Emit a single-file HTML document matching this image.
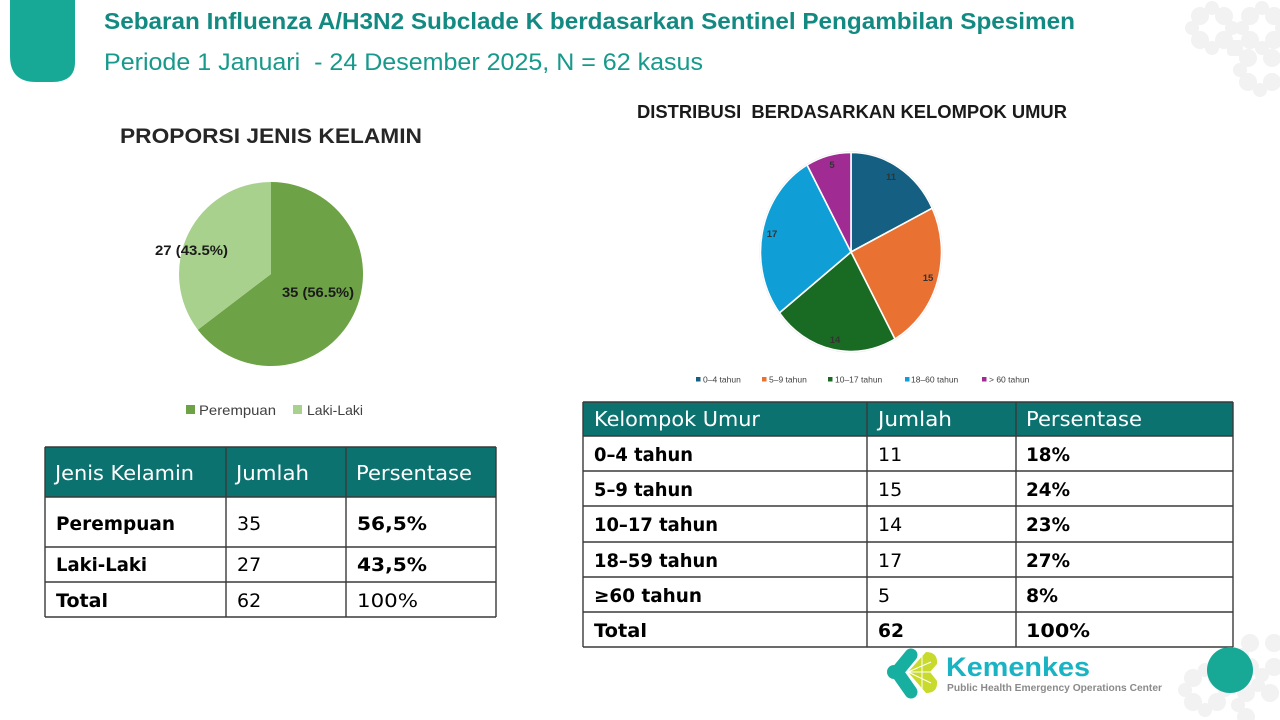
<!DOCTYPE html>
<html>
<head>
<meta charset="utf-8">
<style>
  html, body { margin:0; padding:0; background:#ffffff; }
  body { width:1280px; height:720px; overflow:hidden; }
  svg { display:block; }
  text { white-space: pre; }
</style>
</head>
<body>
<svg width="1280" height="720" viewBox="0 0 1280 720" xmlns="http://www.w3.org/2000/svg">
  <rect x="0" y="0" width="1280" height="720" fill="#ffffff"/>

  <!-- decorative gray patterns -->
  <g fill="#f2f2f2">
    <g transform="translate(1212,28)">
      <circle cx="-12" cy="-12" r="9"/><circle cx="12" cy="-12" r="9"/>
      <circle cx="-12" cy="12" r="9"/><circle cx="12" cy="12" r="9"/>
      <circle cx="0" cy="-20" r="7"/><circle cx="0" cy="20" r="7"/>
      <circle cx="-20" cy="0" r="7"/><circle cx="20" cy="0" r="7"/>
    </g>
    <g transform="translate(1262,28)">
      <circle cx="-12" cy="-12" r="9"/><circle cx="12" cy="-12" r="9"/>
      <circle cx="-12" cy="12" r="9"/><circle cx="12" cy="12" r="9"/>
      <circle cx="0" cy="-20" r="7"/><circle cx="0" cy="20" r="7"/>
      <circle cx="-20" cy="0" r="7"/><circle cx="20" cy="0" r="7"/>
    </g>
    <g transform="translate(1260,70)">
      <circle cx="-12" cy="-12" r="9"/><circle cx="12" cy="-12" r="9"/>
      <circle cx="-12" cy="12" r="9"/><circle cx="12" cy="12" r="9"/>
      <circle cx="0" cy="20" r="7"/><circle cx="-20" cy="0" r="7"/>
    </g>
    <rect x="1227" y="40" width="16" height="16" rx="4"/>
    <g transform="translate(1205,690)">
      <circle cx="-12" cy="-12" r="9"/><circle cx="12" cy="-12" r="9"/>
      <circle cx="-12" cy="12" r="9"/><circle cx="12" cy="12" r="9"/>
      <circle cx="0" cy="-20" r="7"/><circle cx="0" cy="20" r="7"/>
      <circle cx="-20" cy="0" r="7"/><circle cx="20" cy="0" r="7"/>
    </g>
    <g transform="translate(1262,655)">
      <circle cx="-12" cy="-12" r="9"/><circle cx="12" cy="-12" r="9"/>
      <circle cx="-12" cy="12" r="9"/><circle cx="12" cy="12" r="9"/>
      <circle cx="0" cy="20" r="7"/><circle cx="-20" cy="0" r="7"/>
    </g>
    <g transform="translate(1258,705)">
      <circle cx="-12" cy="-12" r="9"/><circle cx="12" cy="-12" r="9"/>
      <circle cx="-12" cy="12" r="9"/><circle cx="0" cy="-20" r="7"/>
      <circle cx="-20" cy="0" r="7"/>
    </g>
  </g>

  <!-- teal tab top-left -->
  <path d="M10,0 H75 V62 Q75,82 52,82 H36 Q10,82 10,56 Z" fill="#17a996"/>

  <!-- title -->
  <text x="104" y="29" font-family="Liberation Sans, sans-serif" font-weight="bold" font-size="23" fill="#128a82" textLength="971" lengthAdjust="spacingAndGlyphs">Sebaran Influenza A/H3N2 Subclade K berdasarkan Sentinel Pengambilan Spesimen</text>
  <text x="104" y="70" font-family="Liberation Sans, sans-serif" font-size="24" fill="#17998b" textLength="599" lengthAdjust="spacingAndGlyphs">Periode 1 Januari  - 24 Desember 2025, N = 62 kasus</text>

  <!-- gender chart -->
  <text x="120" y="143" font-family="Liberation Sans, sans-serif" font-weight="bold" font-size="21" fill="#262626" textLength="302" lengthAdjust="spacingAndGlyphs">PROPORSI JENIS KELAMIN</text>
  <path d="M271,274 L271,182 A92,92 0 1,1 197.8,329.7 Z" fill="#6da346"/>
  <path d="M271,274 L197.8,329.7 A92,92 0 0,1 271,182 Z" fill="#a9d18e"/>
  <text x="155" y="255" font-family="Liberation Sans, sans-serif" font-weight="bold" font-size="14" fill="#1a1a1a" textLength="73" lengthAdjust="spacingAndGlyphs">27 (43.5%)</text>
  <text x="282" y="297" font-family="Liberation Sans, sans-serif" font-weight="bold" font-size="14" fill="#1a1a1a" textLength="72" lengthAdjust="spacingAndGlyphs">35 (56.5%)</text>
  <rect x="186" y="405" width="9" height="9" fill="#6da346"/>
  <text x="199" y="415" font-family="Liberation Sans, sans-serif" font-size="14" fill="#404040" textLength="77" lengthAdjust="spacingAndGlyphs">Perempuan</text>
  <rect x="293" y="405" width="9" height="9" fill="#a9d18e"/>
  <text x="307" y="415" font-family="Liberation Sans, sans-serif" font-size="14" fill="#404040" textLength="56" lengthAdjust="spacingAndGlyphs">Laki-Laki</text>

  <!-- gender table -->
  <rect x="45" y="447" width="451" height="50" fill="#0b7270"/>
  <g stroke="#3a3a3a" stroke-width="1.4" fill="none">
    <line x1="45" y1="447" x2="496" y2="447"/>
    <line x1="45" y1="497" x2="496" y2="497"/>
    <line x1="45" y1="547" x2="496" y2="547"/>
    <line x1="45" y1="582" x2="496" y2="582"/>
    <line x1="45" y1="617" x2="496" y2="617"/>
    <line x1="45" y1="447" x2="45" y2="617"/>
    <line x1="226" y1="447" x2="226" y2="617"/>
    <line x1="346" y1="447" x2="346" y2="617"/>
    <line x1="496" y1="447" x2="496" y2="617"/>
  </g>
  <g font-family="DejaVu Sans, sans-serif" font-size="20.5" fill="#ffffff">
    <text x="55" y="480" textLength="139" lengthAdjust="spacingAndGlyphs">Jenis Kelamin</text>
    <text x="236" y="480" textLength="73" lengthAdjust="spacingAndGlyphs">Jumlah</text>
    <text x="356" y="480" textLength="116" lengthAdjust="spacingAndGlyphs">Persentase</text>
  </g>
  <g font-family="DejaVu Sans, sans-serif" font-size="19" fill="#000000">
    <text x="56" y="530" font-weight="bold" textLength="119" lengthAdjust="spacingAndGlyphs">Perempuan</text>
    <text x="237" y="530">35</text>
    <text x="357" y="530" font-weight="bold" textLength="70" lengthAdjust="spacingAndGlyphs">56,5%</text>
    <text x="56" y="571" font-weight="bold" textLength="91" lengthAdjust="spacingAndGlyphs">Laki-Laki</text>
    <text x="237" y="571">27</text>
    <text x="357" y="571" font-weight="bold" textLength="70" lengthAdjust="spacingAndGlyphs">43,5%</text>
    <text x="56" y="607" font-weight="bold" textLength="52" lengthAdjust="spacingAndGlyphs">Total</text>
    <text x="237" y="607">62</text>
    <text x="357" y="607" textLength="61" lengthAdjust="spacingAndGlyphs">100%</text>
  </g>

  <!-- age chart -->
  <text x="637" y="118" font-family="Liberation Sans, sans-serif" font-weight="bold" font-size="18" fill="#1a1a1a" textLength="430" lengthAdjust="spacingAndGlyphs">DISTRIBUSI  BERDASARKAN KELOMPOK UMUR</text>
  <ellipse cx="851" cy="252" rx="91.5" ry="100.5" fill="#d8d8d8"/>
  <g stroke="#ffffff" stroke-width="1.6" stroke-linejoin="round">
    <path d="M851,252 L851,152.5 A90.5,99.5 0 0,1 932.25,208.18 Z" fill="#156082"/>
    <path d="M851,252 L932.25,208.18 A90.5,99.5 0 0,1 894.92,339 Z" fill="#e97132"/>
    <path d="M851,252 L894.92,339 A90.5,99.5 0 0,1 779.42,312.89 Z" fill="#196b24"/>
    <path d="M851,252 L779.42,312.89 A90.5,99.5 0 0,1 807.08,165 Z" fill="#0f9ed5"/>
    <path d="M851,252 L807.08,165 A90.5,99.5 0 0,1 851,152.5 Z" fill="#a02b93"/>
  </g>
  <g font-family="Liberation Sans, sans-serif" font-size="9.5" font-weight="bold" fill="#333333" text-anchor="middle">
    <text x="891" y="180">11</text>
    <text x="928" y="281">15</text>
    <text x="835" y="343">14</text>
    <text x="772" y="237">17</text>
    <text x="832" y="168">5</text>
  </g>
  <g font-family="Liberation Sans, sans-serif" font-size="8.5" fill="#404040">
    <rect x="696" y="377" width="4.5" height="4.5" fill="#156082"/>
    <text x="703" y="382.5">0–4 tahun</text>
    <rect x="762" y="377" width="4.5" height="4.5" fill="#e97132"/>
    <text x="769" y="382.5">5–9 tahun</text>
    <rect x="828" y="377" width="4.5" height="4.5" fill="#196b24"/>
    <text x="835" y="382.5">10–17 tahun</text>
    <rect x="905" y="377" width="4.5" height="4.5" fill="#0f9ed5"/>
    <text x="911" y="382.5">18–60 tahun</text>
    <rect x="982" y="377" width="4.5" height="4.5" fill="#a02b93"/>
    <text x="989" y="382.5">&gt; 60 tahun</text>
  </g>

  <!-- age table -->
  <rect x="583" y="402" width="650" height="34" fill="#0b7270"/>
  <g stroke="#3a3a3a" stroke-width="1.4" fill="none">
    <line x1="583" y1="402" x2="1233" y2="402"/>
    <line x1="583" y1="436" x2="1233" y2="436"/>
    <line x1="583" y1="471" x2="1233" y2="471"/>
    <line x1="583" y1="506" x2="1233" y2="506"/>
    <line x1="583" y1="542" x2="1233" y2="542"/>
    <line x1="583" y1="577" x2="1233" y2="577"/>
    <line x1="583" y1="612" x2="1233" y2="612"/>
    <line x1="583" y1="647" x2="1233" y2="647"/>
    <line x1="583" y1="402" x2="583" y2="647"/>
    <line x1="867" y1="402" x2="867" y2="647"/>
    <line x1="1016" y1="402" x2="1016" y2="647"/>
    <line x1="1233" y1="402" x2="1233" y2="647"/>
  </g>
  <g font-family="DejaVu Sans, sans-serif" font-size="20.5" fill="#ffffff">
    <text x="594" y="426" textLength="166" lengthAdjust="spacingAndGlyphs">Kelompok Umur</text>
    <text x="878" y="426" textLength="74" lengthAdjust="spacingAndGlyphs">Jumlah</text>
    <text x="1026" y="426" textLength="116" lengthAdjust="spacingAndGlyphs">Persentase</text>
  </g>
  <g font-family="DejaVu Sans, sans-serif" font-size="19" fill="#000000">
    <text x="594" y="461" font-weight="bold" textLength="99" lengthAdjust="spacingAndGlyphs">0–4 tahun</text>
    <text x="878" y="461">11</text>
    <text x="1026" y="461" font-weight="bold" textLength="44" lengthAdjust="spacingAndGlyphs">18%</text>
    <text x="594" y="496" font-weight="bold" textLength="99" lengthAdjust="spacingAndGlyphs">5–9 tahun</text>
    <text x="878" y="496">15</text>
    <text x="1026" y="496" font-weight="bold" textLength="44" lengthAdjust="spacingAndGlyphs">24%</text>
    <text x="594" y="531" font-weight="bold" textLength="124" lengthAdjust="spacingAndGlyphs">10–17 tahun</text>
    <text x="878" y="531">14</text>
    <text x="1026" y="531" font-weight="bold" textLength="44" lengthAdjust="spacingAndGlyphs">23%</text>
    <text x="594" y="567" font-weight="bold" textLength="124" lengthAdjust="spacingAndGlyphs">18–59 tahun</text>
    <text x="878" y="567">17</text>
    <text x="1026" y="567" font-weight="bold" textLength="44" lengthAdjust="spacingAndGlyphs">27%</text>
    <text x="594" y="602" font-weight="bold" textLength="108" lengthAdjust="spacingAndGlyphs">≥60 tahun</text>
    <text x="878" y="602">5</text>
    <text x="1026" y="602" font-weight="bold" textLength="32" lengthAdjust="spacingAndGlyphs">8%</text>
    <text x="594" y="637" font-weight="bold" textLength="53" lengthAdjust="spacingAndGlyphs">Total</text>
    <text x="878" y="637" font-weight="bold" textLength="26" lengthAdjust="spacingAndGlyphs">62</text>
    <text x="1026" y="637" font-weight="bold" textLength="64" lengthAdjust="spacingAndGlyphs">100%</text>
  </g>

  <!-- Kemenkes logo -->
  <g>
    <polyline points="911,655 897,672 911,692" fill="none" stroke="#17b0a0" stroke-width="13" stroke-linecap="round" stroke-linejoin="round"/>
    <circle cx="894" cy="672" r="7" fill="#17b0a0"/>
    <path d="M908,672 L926,652 Q938,652 937,664 L930,672 L937,681 Q938,693 926,693 Z" fill="#c8da2b"/>
    <g stroke="#ffffff" stroke-width="1">
      <line x1="908" y1="672" x2="936" y2="672"/>
      <line x1="922" y1="656" x2="922" y2="689"/>
      <line x1="908" y1="672" x2="931" y2="662"/>
      <line x1="908" y1="672" x2="931" y2="683"/>
    </g>
    <text x="946" y="676" font-family="Liberation Sans, sans-serif" font-weight="bold" font-size="27" fill="#1ab3c4" textLength="144" lengthAdjust="spacingAndGlyphs">Kemenkes</text>
    <text x="947" y="691" font-family="Liberation Sans, sans-serif" font-weight="bold" font-size="10.5" fill="#8a8a8a" textLength="215" lengthAdjust="spacingAndGlyphs">Public Health Emergency Operations Center</text>
  </g>

  <!-- teal circle bottom-right -->
  <circle cx="1230" cy="670" r="23" fill="#17a996"/>
</svg>
</body>
</html>
